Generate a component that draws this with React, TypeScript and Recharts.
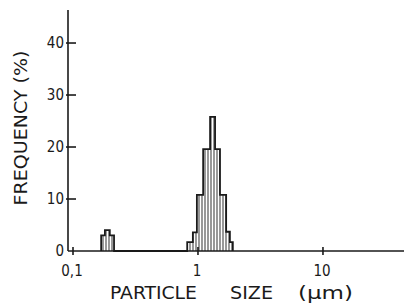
import { ComposedChart, Area, XAxis, YAxis } from 'recharts';

// particle size bin edges (µm) and frequency (%) for the two populations
const fineEdges = [0.168, 0.18, 0.197, 0.213];
const fineFreq = [3.0, 4.0, 3.0];
const mainEdges = [0.82, 0.91, 0.98, 1.1, 1.25, 1.37, 1.5, 1.68, 1.8, 1.9];
const mainFreq = [1.7, 3.6, 10.8, 19.6, 25.8, 19.6, 10.8, 3.7, 1.7];

const xTicks = [0.1, 1, 10];
const yTicks = [0, 10, 20, 30, 40];
const xTitle = ['PARTICLE', 'SIZE', '(µm)'];

const FONT = "'DejaVu Sans Condensed', 'DejaVu Sans', sans-serif";
const INK = '#1a1a1a';

function histPoints(edges: number[], freq: number[]) {
  const pts = [{ size: edges[0], freq: 0 }];
  edges.forEach((e, i) => pts.push({ size: e, freq: i < freq.length ? freq[i] : 0 }));
  return pts;
}

const data = [...histPoints(fineEdges, fineFreq), ...histPoints(mainEdges, mainFreq)];

const fmtX = (v: number) => (v === 0.1 ? '0,1' : String(v));

function YTick(props: any) {
  const { x, y, payload } = props;
  return (
    <g>
      {payload.value !== 0 && <line x1={x} y1={y} x2={x + 10} y2={y} stroke={INK} strokeWidth={1.6} />}
      <text x={x - 2} y={y} dy={5} textAnchor="end" fontFamily={FONT} fontSize={15} fill={INK}>
        {payload.value}
      </text>
    </g>
  );
}

function XTick(props: any) {
  const { x, y, payload } = props;
  return (
    <g>
      <line x1={x} y1={y + 2} x2={x} y2={y - 6} stroke={INK} strokeWidth={1.6} />
      <text x={x - 1} y={y + 23} textAnchor="middle" fontFamily={FONT} fontSize={15} fill={INK}>
        {fmtX(payload.value)}
      </text>
    </g>
  );
}

// word offsets from the plot's left edge, and their widths
const titleX = [42, 162, 230];
const titleW = [87, 43, 55];

export default function App() {
  return (
    <div style={{ position: 'absolute', left: 0, top: 0, width: 404, height: 305, background: '#fff' }}>
      <ComposedChart width={404} height={305} data={data} margin={{ top: 10, right: 0, left: 0, bottom: 0 }}>
        <defs>
          <pattern id="hatch" width="3" height="4" patternUnits="userSpaceOnUse">
            <rect width="3" height="4" fill="#fff" />
            <line x1="1" y1="0" x2="1" y2="4" stroke="#444" strokeWidth={1.1} />
          </pattern>
        </defs>
        <XAxis
          type="number"
          dataKey="size"
          scale="log"
          domain={[0.0912, 44.5]}
          allowDataOverflow
          ticks={xTicks}
          tickSize={0}
          tick={<XTick />}
          axisLine={{ stroke: INK, strokeWidth: 1.5 }}
          height={54}
          label={{
            content: (p: any) => {
              const vb = p.viewBox;
              return (
                <g>
                  {xTitle.map((w, i) => (
                    <text key={w} x={vb.x + titleX[i]} y={vb.y + 48} fontFamily={FONT} fontSize={17}
                      fill={INK} textLength={titleW[i]} lengthAdjust="spacingAndGlyphs">
                      {w}
                    </text>
                  ))}
                </g>
              );
            },
          }}
        />
        <YAxis
          type="number"
          domain={[0, 46.35]}
          ticks={yTicks}
          width={68}
          tickSize={0}
          tick={<YTick />}
          axisLine={{ stroke: INK, strokeWidth: 1.6 }}
          label={{
            content: (p: any) => {
              const vb = p.viewBox;
              const cx = vb.x + 21;
              const cy = vb.y + 118;
              return (
                <text x={cx} y={cy} transform={`rotate(-90 ${cx} ${cy})`} textAnchor="middle" dy={6}
                  fontFamily={FONT} fontSize={17} fill={INK} textLength={155} lengthAdjust="spacingAndGlyphs">
                  FREQUENCY (%)
                </text>
              );
            },
          }}
        />
        <Area
          type="stepAfter"
          dataKey="freq"
          stroke={INK}
          strokeWidth={1.8}
          fill="url(#hatch)"
          fillOpacity={1}
          isAnimationActive={false}
          dot={false}
          activeDot={false}
        />
      </ComposedChart>
    </div>
  );
}
